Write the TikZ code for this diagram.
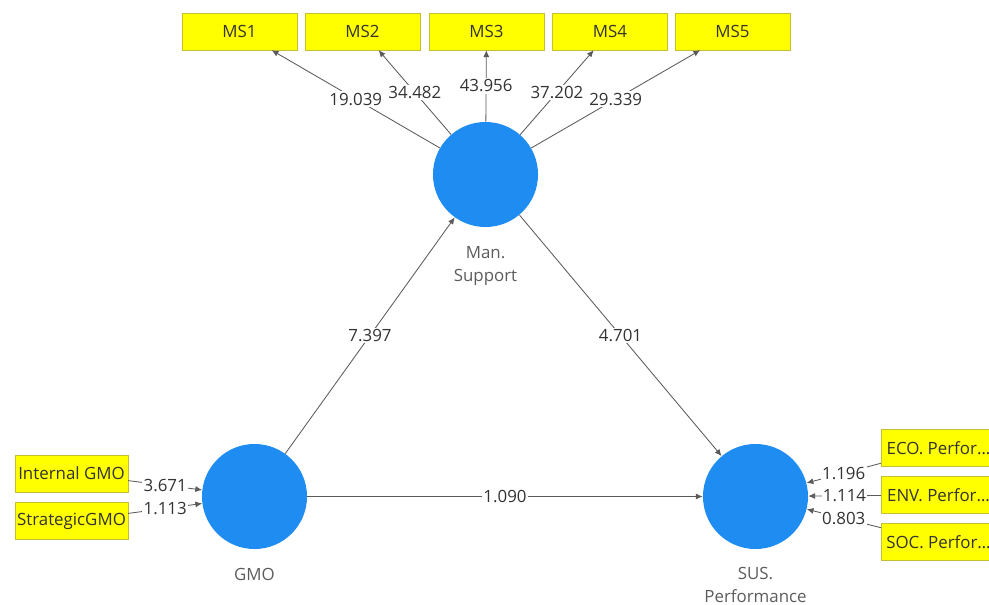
\documentclass[tikz,border=0pt]{standalone}
\usepackage{fontspec}
\setmainfont{Open Sans}
\usetikzlibrary{arrows.meta,positioning}
\definecolor{ink}{HTML}{333333}
\definecolor{wire}{HTML}{5A5A5A}
\definecolor{lvblue}{HTML}{1E8CF0}
\definecolor{ivyellow}{HTML}{FFFF00}

\begin{document}
\begin{tikzpicture}[
    x=0.025cm, y=-0.025cm,
    >={Latex[length=1.7mm,width=1.5mm]},
    txt/.style={font=\fontsize{12}{16.5}\selectfont},
    latent/.style={circle, fill=lvblue, minimum size=2.625cm, inner sep=0pt},
    indicator/.style={txt, fill=ivyellow, draw=yellow!75!black, line width=0.3pt,
                      minimum width=2.875cm, minimum height=0.925cm, inner sep=0pt, text=ink},
    caption/.style={txt, text=ink!80, align=center, inner sep=0pt},
    link/.style={draw=wire, line width=0.6pt, ->},
    coef/.style={txt, fill=white, inner sep=1pt, text=ink}]
  % canvas of the reference, in pixels
  \path[use as bounding box] (0,0) rectangle (989,605);

  % ================= latent variables =================
  \node[latent] (ms)  at (485.5,174.5) {};
  \node[latent] (gmo) at (254.5,496.5) {};
  \node[latent] (sus) at (755.5,496.5) {};
  \node[caption, below=0.47cm of ms]  (mslab)  {Man.\\Support};
  \node[caption, below=0.47cm of gmo] (gmolab) {GMO};
  \node[caption, below=0.43cm of sus] (suslab) {SUS.\\Performance};

  % ================= indicators of Man. Support =================
  \foreach \i/\x in {1/239.5, 2/362.5, 3/486.5, 4/610, 5/732.5}
    \node[indicator] (ms\i) at (\x,31.5) {MS\i};
  \foreach \i/\v in {1/19.039, 2/34.482, 3/43.956, 4/37.202, 5/29.339}
    \draw[link] (ms) -- node[coef] {\v} (ms\i);

  % ================= indicators of GMO =================
  \node[indicator, minimum width=2.825cm] (igmo) at (71.5,473.5) {Internal GMO};
  \node[indicator, minimum width=2.825cm] (sgmo) at (71.5,521) {StrategicGMO};
  \draw[link] (igmo) -- node[coef] {3.671} (gmo);
  \draw[link] (sgmo) -- node[coef] {1.113} (gmo);

  % ================= indicators of SUS. Performance =================
  \node[indicator] (eco) at (938.5,448) {ECO. Perfor\ldots};
  \node[indicator] (env) at (938.5,495) {ENV. Perfor\ldots};
  \node[indicator] (soc) at (938.5,542) {SOC. Perfor\ldots};
  \draw[link] (eco) -- node[coef] {1.196} (sus);
  \draw[link] (env) -- node[coef] {1.114} (sus);
  \draw[link] (soc) -- node[coef] {0.803} (sus);

  % ================= structural paths =================
  \draw[link] (gmo) -- node[coef] {7.397} (ms);
  \draw[link] (ms)  -- node[coef] {4.701} (sus);
  \draw[link] (gmo) -- node[coef] {1.090} (sus);
\end{tikzpicture}
\end{document}
